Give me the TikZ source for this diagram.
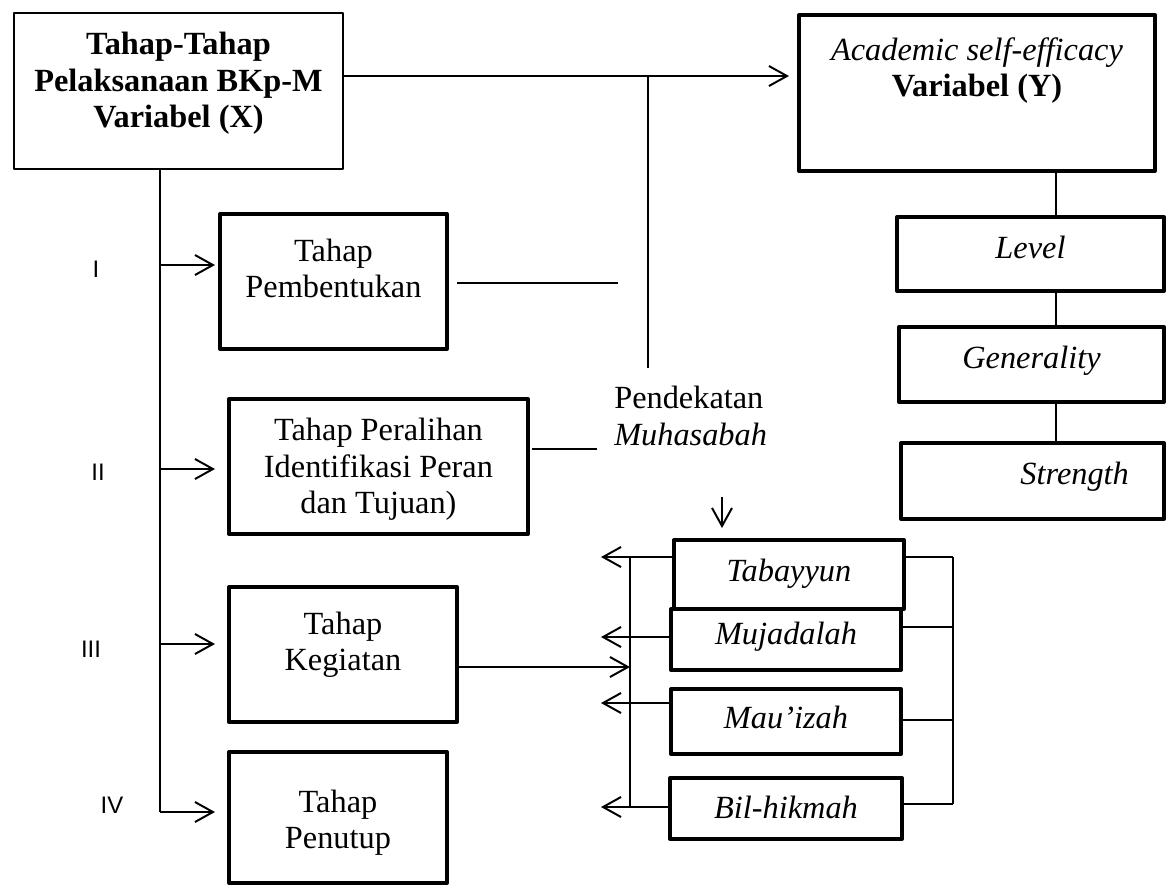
\documentclass[tikz,border=0pt]{standalone}
\usepackage{fontspec}
\setmainfont{Liberation Serif}
\newfontfamily\romfont{Liberation Sans}
\usetikzlibrary{arrows.meta, calc}
\newlength{\pxl}
\setlength{\pxl}{0.025cm}
\newcommand{\mainsize}{\fontsize{23}{26.2}\selectfont}

\begin{document}
\begin{tikzpicture}[
  x=0.025cm, y=-0.025cm,
  font=\mainsize,
  box/.style={draw, line width=2.8pt, line join=round, anchor=north west, inner sep=0pt, align=center},
  thinbox/.style={box, line width=1.4pt},
  line/.style={line width=1pt},
  arr/.style={-{Straight Barb[length=4.5mm, width=5mm]}, line width=1.4pt},
  num/.style={font=\romfont\fontsize{17}{20}\selectfont}
]
  \useasboundingbox (0,0) rectangle (1166,884);

  % variabel X dan Y
  \node[thinbox, font=\mainsize\bfseries, minimum width=329\pxl, text height=115\pxl, text depth=41\pxl] (xbox) at (13,12) {Tahap-Tahap\\Pelaksanaan BKp-M\\Variabel (X)};
  \node[box, minimum width=356\pxl, text height=82\pxl, text depth=74\pxl] (ybox) at (797,13) {\textit{Academic self-efficacy}\\\textbf{Variabel (Y)}};

  % indikator Y
  \node[box, minimum width=267\pxl, text height=42\pxl, text depth=32\pxl] (level) at (895,215) {\textit{Level}};
  \node[box, minimum width=265\pxl, text height=42\pxl, text depth=33\pxl] (general) at (897,325) {\textit{Generality}};
  \node[box, minimum width=263\pxl, text height=42\pxl, text depth=34\pxl] (strength) at (899,441) {\hspace*{60pt}\textit{Strength}};

  % tahap-tahap
  \node[box, minimum width=227\pxl, text height=84\pxl, text depth=51\pxl] (bentuk) at (218,212) {Tahap\\Pembentukan};
  \node[box, minimum width=299\pxl, text height=115\pxl, text depth=20\pxl] (alih) at (227,397) {Tahap Peralihan\\Identifikasi Peran\\dan Tujuan)};
  \node[box, minimum width=228\pxl, text height=84\pxl, text depth=51\pxl] (giat) at (227,585) {Tahap\\Kegiatan};
  \node[box, minimum width=218\pxl, text height=97\pxl, text depth=34\pxl] (tutup) at (227,750) {Tahap\\Penutup};

  \node[num] (n1) at (96,269) {I};
  \node[num] (n2) at (98,472) {II};
  \node[num] (n3) at (91,649) {III};
  \node[num] (n4) at (112,805) {IV};

  % pendekatan muhasabah
  \node[anchor=north west, inner sep=0pt, align=left, text height=67\pxl, text depth=20\pxl] (pend) at (614,378) {Pendekatan\\\textit{Muhasabah}};
  \node[box, minimum width=230\pxl, text height=42\pxl, text depth=27\pxl] (tabayyun) at (672,538) {\textit{Tabayyun}};
  \node[box, minimum width=230\pxl, text height=36\pxl, text depth=25\pxl] (mujadalah) at (669,607) {\textit{Mujadalah}};
  \node[box, minimum width=230\pxl, text height=40\pxl, text depth=25\pxl] (mauizah) at (669,687) {\textit{Mau’izah}};
  \node[box, minimum width=232\pxl, text height=41\pxl, text depth=20\pxl] (bilhikmah) at (668,776) {\textit{Bil-hikmah}};

  \coordinate (vtop) at (648,76);
  \coordinate (vbot) at (648,368);
  \coordinate (bend) at (618,283);
  \coordinate (aend) at (597,449);
  \coordinate (lx) at (160,812);
  \coordinate (rx) at (1056,0);
  \coordinate (kg) at (630,667);
  \coordinate (tipL) at (601,0);
  \coordinate (busLt) at (630,557);
  \coordinate (busLb) at (630,807);
  \coordinate (busRt) at (953,557);
  \coordinate (busRb) at (953,804);
  \coordinate (dn) at (722,497);

  \draw[arr, shorten >=2mm] (xbox.east |- vtop) -- (ybox.west |- vtop);
  \draw[line] (vtop) -- (vbot);
  \draw[line, shorten <=2mm] (bentuk.east |- bend) -- (bend);
  \draw[line, shorten <=0.5mm] (alih.east |- aend) -- (aend);

  \draw[line] (ybox.south -| rx) -- (level.north -| rx);
  \draw[line] (level.south -| rx) -- (general.north -| rx);
  \draw[line] (general.south -| rx) -- (strength.north -| rx);

  \draw[line] (xbox.south -| lx) -- (lx);
  \foreach \b/\y/\g in {bentuk/265/0.75, alih/469/3, giat/644/3, tutup/812/3}
    \draw[arr, shorten >=\g mm] (lx |- 0,\y) -- (\b.west |- 0,\y);

  \draw[arr, shorten >=2.5mm] (dn) -- (tabayyun.north -| dn);
  \draw[arr] (giat.east |- kg) -- (kg);
  \draw[line] (busLt) -- (busLb);
  \draw[line] (busRt) -- (busRb);
  \foreach \b/\y in {tabayyun/557, mujadalah/637, mauizah/703, bilhikmah/807}
    \draw[arr] (\b.west |- 0,\y) -- (tipL |- 0,\y);
  \foreach \b/\y in {tabayyun/557, mujadalah/627, mauizah/720, bilhikmah/804}
    \draw[line] (\b.east |- 0,\y) -- (busRt |- 0,\y);
\end{tikzpicture}
\end{document}
